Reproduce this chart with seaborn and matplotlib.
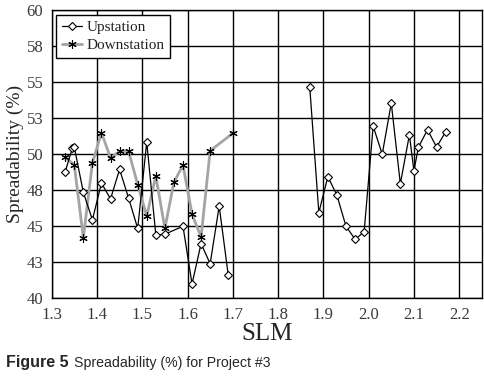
import numpy as np
import pandas as pd
import seaborn as sns
import matplotlib.pyplot as plt
from matplotlib.lines import Line2D
from matplotlib.ticker import FixedLocator, FixedFormatter

# upstation values (two separate runs of SLM, no line between them)
up_slm = [1.33, 1.346, 1.350, 1.37, 1.39, 1.41, 1.43, 1.45, 1.47, 1.49, 1.51, 1.53, 1.55,
          1.59, 1.61, 1.63, 1.65, 1.67, 1.69,
          1.87, 1.89, 1.91, 1.93, 1.95, 1.97, 1.99, 2.01, 2.03, 2.05, 2.07, 2.09, 2.10,
          2.11, 2.13, 2.15, 2.17]
up_val = [48.8, 50.45, 50.5, 47.35, 45.45, 48.0, 46.9, 48.95, 46.95, 44.85, 50.85, 44.4, 44.45,
          45.0, 41.0, 43.8, 42.4, 46.4, 41.6,
          54.65, 45.95, 48.45, 47.15, 45.0, 44.1, 44.6, 51.95, 50.0, 53.55, 47.95, 51.35, 48.85,
          50.5, 51.7, 50.5, 51.55]
up_run = [1] * 19 + [2] * 17

down_slm = [1.33, 1.35, 1.37, 1.39, 1.41, 1.43, 1.45, 1.47, 1.49, 1.51, 1.53, 1.55,
            1.57, 1.59, 1.61, 1.63, 1.65, 1.70]
down_val = [49.8, 49.25, 44.2, 49.4, 51.5, 49.75, 50.2, 50.2, 47.9, 45.7, 48.5, 44.85,
            48.05, 49.25, 45.85, 44.25, 50.25, 51.45]

up = pd.DataFrame({'SLM': up_slm, 'val': up_val, 'run': up_run})
down = pd.DataFrame({'SLM': down_slm, 'val': down_val, 'run': 1})

sns.set_style('white')
plt.rcParams['font.family'] = ['Liberation Serif', 'DejaVu Serif']

fig = plt.figure(figsize=(4.85, 3.8), dpi=100)
ax = fig.add_axes([0.1065, 0.215, 0.887, 0.758])

down_style = dict(color='#a4a4a4', lw=2.0, linestyle='-', marker=(6, 2, 0),
                  markersize=6, markeredgecolor='black', markeredgewidth=0.8,
                  solid_joinstyle='round')
up_style = dict(color='black', lw=0.9, marker='D', markersize=4,
                markerfacecolor='white', markeredgecolor='black', markeredgewidth=0.8)

sns.lineplot(data=down, x='SLM', y='val', units='run', estimator=None, ax=ax,
             legend=False, zorder=3, **down_style)
sns.lineplot(data=up, x='SLM', y='val', units='run', estimator=None, ax=ax,
             legend=False, zorder=4, **up_style)

ax.set_xlim(1.3, 2.25)
ax.set_ylim(40, 60)
ax.set_xticks(np.arange(1.3, 2.21, 0.1))
ax.set_xticklabels(['1.3', '1.4', '1.5', '1.6', '1.7', '1.8', '1.9', '2.0', '2.1', '2.2'])
yt = np.arange(40, 60.1, 2.5)
ax.yaxis.set_major_locator(FixedLocator(yt))
ax.yaxis.set_major_formatter(FixedFormatter(['40', '43', '45', '48', '50', '53', '55', '58', '60']))
ax.grid(True, color='black', lw=1.0)
for s in ax.spines.values():
    s.set_color('black')
    s.set_linewidth(1.0)
ax.tick_params(axis='both', labelsize=12, colors='#3a3a3a', length=0, pad=6)

ax.set_xlabel('SLM', fontsize=18, labelpad=0)
ax.set_ylabel('Spreadability (%)', fontsize=14, labelpad=2)

handles = [Line2D([], [], **up_style), Line2D([], [], **down_style)]
leg = ax.legend(handles, ['Upstation', 'Downstation'], loc='upper left', fontsize=11,
                frameon=True, fancybox=False, edgecolor='black', framealpha=1,
                handlelength=1.3, handletextpad=0.3, borderpad=0.35,
                labelspacing=0.3, borderaxespad=0, bbox_to_anchor=(0.011, 0.983))
leg.get_frame().set_linewidth(1.0)
for t in leg.get_texts():
    t.set_color('#222222')

fig.text(0.012, 0.033, 'Figure 5', fontsize=11.5, fontweight='bold',
         family='Liberation Sans')
fig.text(0.153, 0.033, 'Spreadability (%) for Project #3', fontsize=10.2,
         family='Liberation Sans')

fig.savefig('out.png', dpi=100)
